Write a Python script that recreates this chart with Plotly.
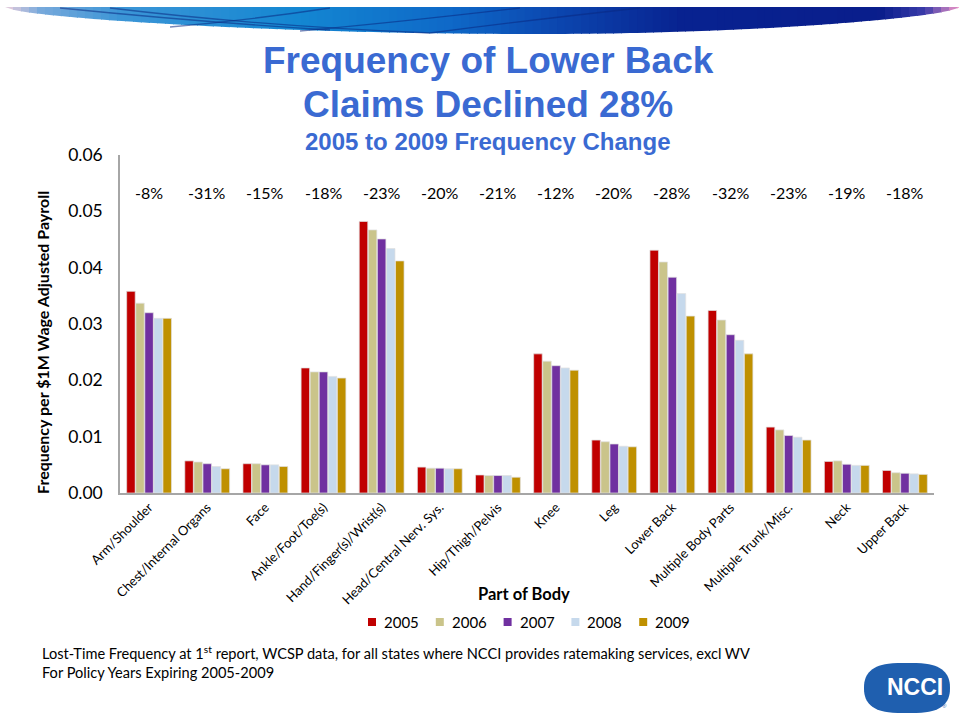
import math
import plotly.graph_objects as go

# ---- data -------------------------------------------------------------
parts = ["Arm/Shoulder", "Chest/Internal Organs", "Face", "Ankle/Foot/Toe(s)",
         "Hand/Finger(s)/Wrist(s)", "Head/Central Nerv. Sys.", "Hip/Thigh/Pelvis",
         "Knee", "Leg", "Lower Back", "Multiple Body Parts", "Multiple Trunk/Misc.",
         "Neck", "Upper Back"]
years = ["2005", "2006", "2007", "2008", "2009"]
freq_2005 = [0.0358, 0.0057, 0.0052, 0.0222, 0.0482, 0.0046, 0.0032, 0.0247, 0.0094, 0.0431, 0.0324, 0.0117, 0.0056, 0.0040]
freq_2006 = [0.0337, 0.0055, 0.0052, 0.0215, 0.0467, 0.0044, 0.0031, 0.0234, 0.0091, 0.0410, 0.0307, 0.0112, 0.0057, 0.0036]
freq_2007 = [0.0320, 0.0052, 0.0050, 0.0215, 0.0451, 0.0044, 0.0031, 0.0226, 0.0087, 0.0383, 0.0281, 0.0102, 0.0051, 0.0035]
freq_2008 = [0.0310, 0.0047, 0.0050, 0.0207, 0.0434, 0.0043, 0.0031, 0.0222, 0.0083, 0.0354, 0.0271, 0.0099, 0.0049, 0.0034]
freq_2009 = [0.0310, 0.0043, 0.0047, 0.0204, 0.0412, 0.0043, 0.0028, 0.0218, 0.0082, 0.0314, 0.0247, 0.0094, 0.0049, 0.0033]
pct_change = ["-8%", "-31%", "-15%", "-18%", "-23%", "-20%", "-21%", "-12%",
              "-20%", "-28%", "-32%", "-23%", "-19%", "-18%"]
y_ticks = [0.00, 0.01, 0.02, 0.03, 0.04, 0.05, 0.06]
y_tick_text = ["0.00", "0.01", "0.02", "0.03", "0.04", "0.05", "0.06"]

series = [freq_2005, freq_2006, freq_2007, freq_2008, freq_2009]
colors = ["#C00000", "#CAC48A", "#7030A0", "#C6D9EC", "#BF9000"]

# ---- geometry helpers (pixel -> paper) --------------------------------
W, H = 959, 719
L, R, T, B = 120, 934, 155, 493


def px(x):
    return (x - L) / (R - L)


def py(y):
    return (B - y) / (B - T)


BODY = "Lato, Calibri, sans-serif"
TITLE = "Liberation Sans, Arial, sans-serif"
BLUE = "#3A6AD2"

fig = go.Figure()
for yr, vals, col in zip(years, series, colors):
    fig.add_trace(go.Bar(
        name=yr, x=parts, y=vals, showlegend=False,
        marker=dict(color=col, line=dict(color="rgba(225,225,225,0.9)", width=0.8)),
    ))

annotations = []
# title block
annotations.append(dict(text="<b>Frequency of Lower Back</b>", x=px(488), y=py(60),
                        font=dict(family=TITLE, size=37, color=BLUE)))
annotations.append(dict(text="<b>Claims Declined 28%</b>", x=px(488), y=py(104),
                        font=dict(family=TITLE, size=37, color=BLUE)))
annotations.append(dict(text="<b>2005 to 2009 Frequency Change</b>", x=px(487), y=py(142),
                        font=dict(family=TITLE, size=24, color=BLUE)))
# percent change per part
for p, txt in zip(parts, pct_change):
    annotations.append(dict(text=txt, x=p, xref="x", y=py(192), yref="paper",
                            font=dict(family=BODY, size=16, color="#000")))
# axis titles
annotations.append(dict(text="<b>Frequency per $1M Wage Adjusted Payroll</b>", x=px(42), y=py(343),
                        textangle=-90, font=dict(family=BODY, size=16, color="#000")))
annotations.append(dict(text="<b>Part of Body</b>", x=px(524), y=py(594),
                        font=dict(family=BODY, size=16.5, color="#000")))
# footnote
annotations.append(dict(text="Lost-Time Frequency at 1<sup>st</sup> report, WCSP data, for all states where NCCI provides ratemaking services, excl WV",
                        x=px(40), y=py(652), xanchor="left",
                        font=dict(family=BODY, size=14.6, color="#000")))
annotations.append(dict(text="For Policy Years Expiring 2005-2009", x=px(40), y=py(672), xanchor="left",
                        font=dict(family=BODY, size=14.6, color="#000")))
# logo text
annotations.append(dict(text="<b>NCCI</b>", x=px(915), y=py(687),
                        font=dict(family=TITLE, size=23, color="white")))
annotations.append(dict(text="®", x=px(944), y=py(706),
                        font=dict(family=TITLE, size=6, color="#1F5FAF")))

shapes = []

# legend: colour swatch followed by the year
LEG_X0, LEG_DX, LEG_Y = 368, 67.8, 622
for i, (yr, col) in enumerate(zip(years, colors)):
    sx = LEG_X0 + i * LEG_DX
    shapes.append(dict(type="rect", xref="paper", yref="paper",
                       x0=px(sx), x1=px(sx + 8), y0=py(LEG_Y + 4), y1=py(LEG_Y - 4),
                       fillcolor=col, line=dict(width=0)))
    annotations.append(dict(text=yr, x=px(sx + 14), y=py(LEG_Y), xanchor="left",
                            font=dict(family=BODY, size=15, color="#000")))

for a in annotations:
    a.setdefault("xref", "paper")
    a.setdefault("yref", "paper")
    a.setdefault("xanchor", "center")
    a.setdefault("yanchor", "middle")
    a.setdefault("showarrow", False)


# header swoosh drawn as thin vertical strips shading from light to dark blue
def swoosh_bottom(x):
    if x < 540:
        t = (x - 5) / 535
    else:
        t = (959 - x) / 419
    t = max(0.0, min(1.0, t))
    return 7 + 27 * math.sin(math.pi / 2 * t) ** 0.6


def lerp(c1, c2, t):
    return "#%02x%02x%02x" % tuple(int(c1[i] + (c2[i] - c1[i]) * t) for i in range(3))


stops = [(5, (235, 205, 220)), (40, (120, 170, 220)), (120, (60, 150, 215)),
         (300, (20, 135, 210)), (450, (15, 105, 200)), (560, (12, 70, 175)),
         (680, (8, 35, 145)), (880, (10, 30, 140)), (925, (60, 60, 170)), (959, (240, 150, 200))]


def band_color(x):
    for (x0, c0), (x1, c1) in zip(stops, stops[1:]):
        if x0 <= x <= x1:
            return lerp(c0, c1, (x - x0) / (x1 - x0))
    return lerp(stops[-1][1], stops[-1][1], 0)


step = 8
xs = list(range(5, 959, step)) + [959]
for x0, x1 in zip(xs, xs[1:]):
    pts = [(x0, 7), (x1 + 1, 7), (x1 + 1, swoosh_bottom(x1 + 1)), (x0, swoosh_bottom(x0))]
    path = "M " + " L ".join(f"{px(a):.5f},{py(b):.5f}" for a, b in pts) + " Z"
    shapes.append(dict(type="path", path=path, xref="paper", yref="paper",
                       fillcolor=band_color((x0 + x1) / 2), line=dict(width=0), layer="above"))

# crossing strands in the lighter part of the header
for (sx, sy, cx, cy, ex, ey) in [(60, 8, 200, 22, 330, 30), (110, 8, 260, 26, 430, 33),
                                 (330, 8, 250, 20, 170, 27), (520, 8, 400, 22, 300, 31),
                                 (640, 8, 530, 20, 430, 33)]:
    path = (f"M {px(sx):.5f},{py(sy):.5f} Q {px(cx):.5f},{py(cy):.5f} "
            f"{px(ex):.5f},{py(ey):.5f}")
    shapes.append(dict(type="path", path=path, xref="paper", yref="paper",
                       line=dict(color="rgba(10,40,130,0.55)", width=1.3), layer="above"))

# logo badge: a rounded superellipse
cx, cy, ax, ay = 907, 688, 43, 25
badge = []
for k in range(73):
    th = 2 * math.pi * k / 72
    c, s = math.cos(th), math.sin(th)
    bx = cx + ax * math.copysign(abs(c) ** (2 / 3.2), c)
    by = cy + ay * math.copysign(abs(s) ** (2 / 2.4), s)
    badge.append((bx, by))
shapes.append(dict(type="path", xref="paper", yref="paper",
                   path="M " + " L ".join(f"{px(a):.5f},{py(b):.5f}" for a, b in badge) + " Z",
                   fillcolor="#1F5FAF", line=dict(width=0)))

fig.update_layout(
    width=W, height=H,
    margin=dict(l=L, r=W - R, t=T, b=H - B, autoexpand=False),
    paper_bgcolor="white", plot_bgcolor="white",
    barmode="group", bargap=0.22, bargroupgap=0.06,
    font=dict(family=BODY, color="#000"),
    showlegend=False,
    annotations=annotations,
    shapes=shapes,
)
fig.update_xaxes(showline=True, linecolor="#A6A6A6", linewidth=1.5, tickangle=-45,
                 tickfont=dict(family=BODY, size=13, color="#000"), showgrid=False,
                 ticks="", range=[-0.5, len(parts) - 0.5])
fig.update_yaxes(range=[0, 0.06], tickvals=y_ticks, ticktext=y_tick_text, showline=True,
                 linecolor="#A6A6A6", linewidth=1.5, showgrid=False, zeroline=False,
                 ticks="", ticklabelstandoff=12,
                 tickfont=dict(family=BODY, size=17.5, color="#000"))

fig.write_html("out.html")
